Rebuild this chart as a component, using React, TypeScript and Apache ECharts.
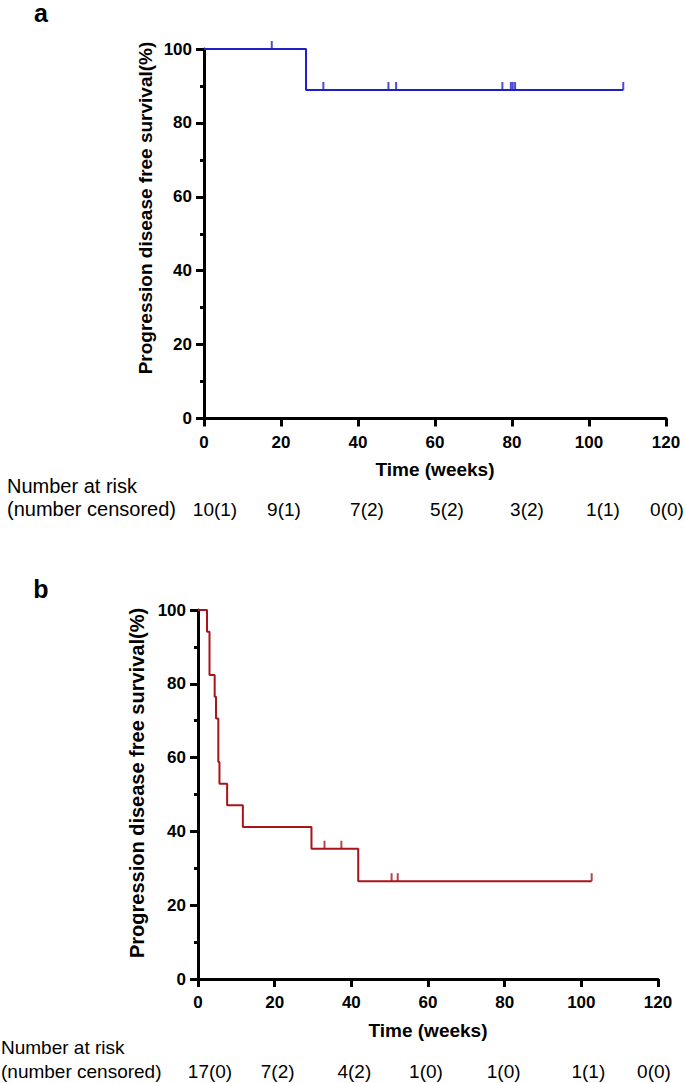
import React, { useEffect, useRef } from "react";
import * as echarts from "echarts";

// ---------- Data ----------
const xTicks = [0, 20, 40, 60, 80, 100, 120];

// Panel a: Kaplan-Meier steps (time in weeks, survival %)
const kmATime = [0, 26.5, 108.9];
const kmASurv = [100, 88.9, 88.9];
const censorATime = [17.6, 31.0, 47.9, 49.9, 77.5, 79.7, 80.2, 80.8, 108.9];
const censorASurv = [100, 88.9, 88.9, 88.9, 88.9, 88.9, 88.9, 88.9, 88.9];
const riskA = ["10(1)", "9(1)", "7(2)", "5(2)", "3(2)", "1(1)", "0(0)"];

// Panel b
const kmBTime = [0, 2.35, 3.0, 4.35, 4.7, 5.3, 5.6, 7.6, 11.7, 29.6, 41.8, 102.7];
const kmBSurv = [100, 94.1, 82.4, 76.5, 70.6, 58.8, 52.9, 47.1, 41.2, 35.3, 26.5, 26.5];
const censorBTime = [33.0, 37.4, 50.5, 52.1, 102.7];
const censorBSurv = [35.3, 35.3, 26.5, 26.5, 26.5];
const riskB = ["17(0)", "7(2)", "4(2)", "1(0)", "1(0)", "1(1)", "0(0)"];

// ---------- Style / layout ----------
const FONT = "'Liberation Sans', Arial, Helvetica, sans-serif";
const BLUE = "#1f1fc8";
const RED = "#a8141a";
const riskOffsetA = [11, 3, 9, 12, 15, 14, 1];
const riskOffsetB = [12, 3, 3, -2, -1, 7, -4];

function zip(a: number[], b: number[]) {
  return a.map((v, i) => [v, b[i]]);
}

function makeX(gridIndex: number) {
  return {
    type: "value",
    gridIndex,
    min: 0,
    max: 120,
    interval: 20,
    splitLine: { show: false },
    axisLine: { show: true, lineStyle: { color: "#000", width: 3 } },
    axisTick: { show: true, length: 8, lineStyle: { color: "#000", width: 3 } },
    axisLabel: { color: "#000", fontSize: 17, fontWeight: "bold", fontFamily: FONT, margin: 15 },
  };
}

function makeY(gridIndex: number) {
  return {
    type: "value",
    gridIndex,
    min: 0,
    max: 100,
    interval: 20,
    splitLine: { show: false },
    axisLine: { show: true, lineStyle: { color: "#000", width: 3 } },
    axisTick: { show: true, length: 8, lineStyle: { color: "#000", width: 3 } },
    minorTick: { show: true, splitNumber: 2, length: 4, lineStyle: { color: "#000", width: 3 } },
    axisLabel: { color: "#000", fontSize: 17, fontWeight: "bold", fontFamily: FONT, margin: 12 },
  };
}

function kmSeries(idx: number, time: number[], surv: number[], color: string) {
  return {
    type: "line",
    xAxisIndex: idx,
    yAxisIndex: idx,
    step: "end",
    symbol: "none",
    clip: false,
    data: zip(time, surv),
    lineStyle: { color, width: 2 },
    z: 3,
  };
}

function censorSeries(idx: number, time: number[], surv: number[], color: string) {
  return {
    type: "scatter",
    xAxisIndex: idx,
    yAxisIndex: idx,
    clip: false,
    symbol: "rect",
    symbolSize: [2, 8],
    symbolOffset: [0, -4],
    itemStyle: { color },
    data: zip(time, surv),
    z: 4,
  };
}

export default function App() {
  const ref = useRef<HTMLDivElement>(null);

  useEffect(() => {
    if (!ref.current) return;
    const chart = echarts.init(ref.current, undefined, { renderer: "svg" });
    chart.setOption({
      animation: false,
      backgroundColor: "#fff",
      grid: [
        { left: 204, top: 49, width: 462, height: 369.5 },
        { left: 198, top: 610, width: 460, height: 369 },
      ],
      xAxis: [makeX(0), makeX(1)],
      yAxis: [makeY(0), makeY(1)],
      series: [
        kmSeries(0, kmATime, kmASurv, BLUE),
        censorSeries(0, censorATime, censorASurv, BLUE),
        kmSeries(1, kmBTime, kmBSurv, RED),
        censorSeries(1, censorBTime, censorBSurv, RED),
      ],
    });

    const graphics: any[] = [];
    const txt = (x: number, y: number, text: string, extra: any = {}) => ({
      type: "text",
      x,
      y,
      style: {
        text,
        fill: "#000",
        fontFamily: FONT,
        fontSize: 19,
        align: "center",
        verticalAlign: "middle",
        ...extra,
      },
    });

    // panel letters
    graphics.push(txt(41, 0, "a", { fontSize: 25, fontWeight: "bold", verticalAlign: "top" }));
    graphics.push(txt(41, 576, "b", { fontSize: 25, fontWeight: "bold", verticalAlign: "top" }));

    const panels = [
      { idx: 0, risk: riskA, off: riskOffsetA, titleY: 469, riskY1: 486, riskY2: 509, yTitleX: 145, yTitleY: 208, yTitleSize: 19, riskX: 7, riskLabelSize: 20 },
      { idx: 1, risk: riskB, off: riskOffsetB, titleY: 1030, riskY1: 1047, riskY2: 1071, yTitleX: 137, yTitleY: 783, yTitleSize: 20, riskX: 1, riskLabelSize: 19 },
    ];
    panels.forEach((p) => {
      const x0 = chart.convertToPixel({ gridIndex: p.idx }, [0, 0]) as number[];
      const x120 = chart.convertToPixel({ gridIndex: p.idx }, [120, 100]) as number[];
      const midX = (x0[0] + x120[0]) / 2;
      graphics.push(txt(midX, p.titleY, "Time (weeks)", { fontSize: 19, fontWeight: "bold" }));
      graphics.push({
        type: "text",
        x: p.yTitleX,
        y: p.yTitleY,
        rotation: Math.PI / 2,
        style: {
          text: "Progression disease free survival(%)",
          fill: "#000",
          fontFamily: FONT,
          fontSize: p.yTitleSize,
          fontWeight: "bold",
          align: "center",
          verticalAlign: "middle",
        },
      });
      graphics.push(txt(p.riskX, p.riskY1, "Number at risk", { align: "left", fontSize: p.riskLabelSize }));
      graphics.push(txt(p.riskX, p.riskY2, "(number censored)", { align: "left", fontSize: p.riskLabelSize }));
      xTicks.forEach((t, i) => {
        const px = chart.convertToPixel({ gridIndex: p.idx }, [t, 0]) as number[];
        graphics.push(txt(px[0] + p.off[i], p.riskY2, p.risk[i]));
      });
    });

    chart.setOption({ graphic: graphics });

    return () => chart.dispose();
  }, []);

  return (
    <div
      ref={ref}
      style={{ position: "absolute", left: 0, top: 0, width: 685, height: 1083, background: "#fff" }}
    />
  );
}
